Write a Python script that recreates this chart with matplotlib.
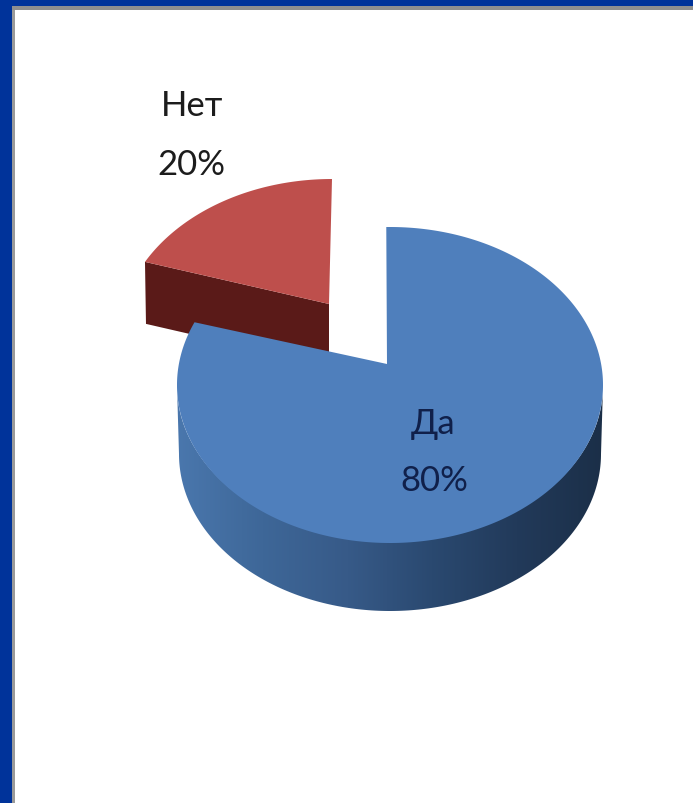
import numpy as np
import matplotlib
matplotlib.use('Agg')
import matplotlib.pyplot as plt
from matplotlib.colors import LinearSegmentedColormap
from matplotlib.patches import Polygon, Rectangle

labels = ['Да', 'Нет']
shares = [80, 20]

W, H = 693, 804
# the chart is a perspective drawing, so a share does not sweep its true angle
SWEEP_BLUE = 3.68
SWEEP_RED = 3.07


def arc(cx, cy, rx, ry, t0, t1, n=200):
    t = np.radians(np.linspace(t0, t1, n))
    return np.column_stack([cx + rx * np.cos(t), cy - ry * np.sin(t)])


fig = plt.figure(figsize=(W / 100, H / 100), dpi=100)
ax = fig.add_axes([0, 0, 1, 1])
ax.set_xlim(0, W)
ax.set_ylim(H, 0)
ax.axis('off')

# slide frame
ax.add_patch(Rectangle((0, 7), 15, H, fc='#9a9a9a', ec='none'))
ax.add_patch(Rectangle((0, 7), W, 4, fc='#8f8f8f', ec='none'))
ax.add_patch(Rectangle((0, 0), 12, H, fc='#00339a', ec='none'))
ax.add_patch(Rectangle((0, 0), W, 7, fc='#00339a', ec='none'))

# red slice, pulled out
red_end = 90 + shares[1] * SWEEP_RED
red_arc = arc(332, 339, 213, 159, 90, red_end)
red_apex = np.array([329, 305])
left = red_arc[-1]
ax.add_patch(Polygon([left, red_apex, red_apex + [0, 62], left + [1, 62]],
                     fc='#5a1a18', ec='none', zorder=2))
ax.add_patch(Polygon(np.vstack([red_arc, red_apex]), fc='#be4f4c', ec='none', zorder=3))

# blue slice, wall first
top_low = arc(390, 387, 213, 155, 180, 360)
bottom_low = arc(390, 455, 211, 157, 360, 180)
wall = Polygon(np.vstack([top_low, bottom_low]), fc='none', ec='none', zorder=4)
ax.add_patch(wall)
cmap = LinearSegmentedColormap.from_list('wall', [
    (0.0, '#4a77ad'), (0.2, '#3e6798'), (0.4, '#375a88'),
    (0.6, '#2a4970'), (0.8, '#223a5a'), (1.0, '#1b2f48')])
im = ax.imshow(np.linspace(0, 1, 256)[None, :], cmap=cmap, aspect='auto',
               extent=(177, 603, 620, 380), zorder=4)
im.set_clip_path(wall)
ax.set_xlim(0, W)
ax.set_ylim(H, 0)

blue_start = 91
blue_end = blue_start - shares[0] * SWEEP_BLUE
blue_arc = arc(390, 386, 213, 158, blue_start, blue_end, n=500)
ax.add_patch(Polygon(np.vstack([blue_arc, [387, 365]]), fc='#4f7fbc', ec='none', zorder=5))

# labels
fam = ['Lato', 'Liberation Sans', 'DejaVu Sans']
ax.text(192, 106, labels[1], ha='center', va='center', fontsize=25, family=fam, color='#1c1c1c', zorder=6)
ax.text(191, 165, f'{shares[1]}%', ha='center', va='center', fontsize=25, family=fam, color='#1c1c1c', zorder=6)
ax.text(433, 424, labels[0], ha='center', va='center', fontsize=25, family=fam, color='#10204a', zorder=6)
ax.text(434, 481, f'{shares[0]}%', ha='center', va='center', fontsize=25, family=fam, color='#10204a', zorder=6)

fig.savefig('out.png', dpi=100)
